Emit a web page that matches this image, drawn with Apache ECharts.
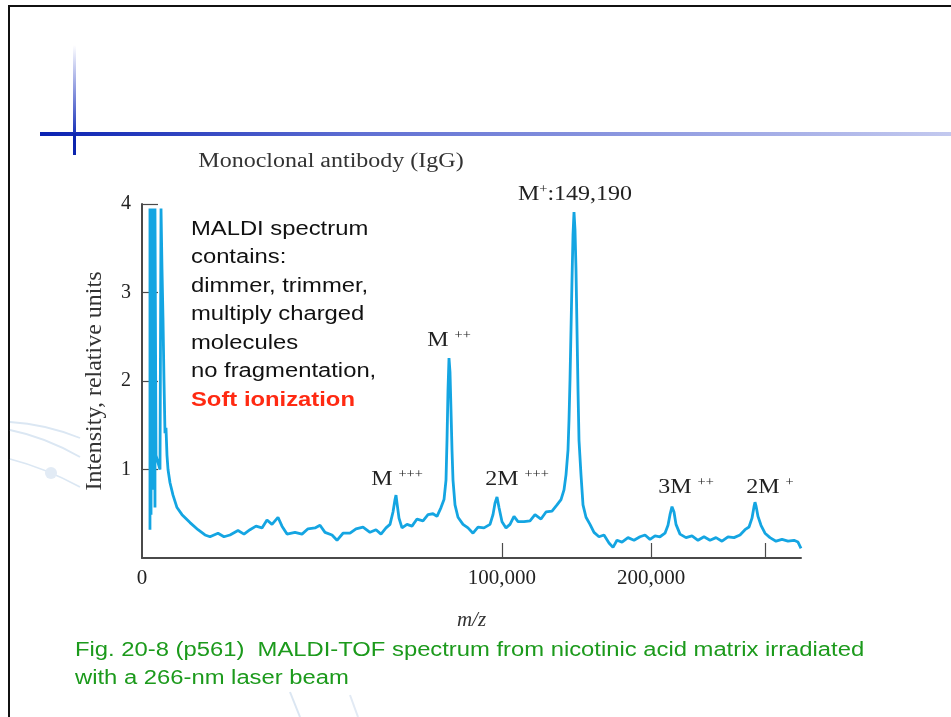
<!DOCTYPE html>
<html>
<head>
<meta charset="utf-8">
<script src="https://cdn.jsdelivr.net/npm/echarts@6/dist/echarts.min.js"></script>
<style>
html,body{margin:0;padding:0;background:#fff;}
#c{width:951px;height:717px;}
</style>
</head>
<body>
<div id="c"></div>
<script>
// ---- data ----
const mzValues = [49,49,63,63,77,77,93,93,111,111,130,130,151,250,279,309,340,373,408,444,482,522,605,742,945,1235,1778,2420,3063,3568,4457,5188,5976,7111,8028,9000,10028,11112,12057,13041,14272,15124,16224,18063,19754,21263,23094,24449,25842,27856,29342,31175,33384,35338,37688,40113,42252,44077,45940,47459,48614,49392,49783,50176,50966,52163,54188,56252,58355,60929,63117,65343,67152,68986,70377,71312,71782,72253,72726,73201,73677,74154,74634,75597,77053,79511,82007,84541,87115,90254,93449,95067,96153,97246,98345,100004,102239,104498,106782,109091,112601,116166,119179,122846,125944,129712,132895,135470,137416,138722,140034,140692,141352,142013,142676,143340,144007,144674,145343,146013,146685,147359,148711,150069,152118,154871,157649,161156,164702,168286,171182,174101,177785,182258,186786,191370,195232,199132,203072,207050,211066,213494,215121,216754,217572,218393,220038,223346,228356,233421,238541,243718,248949,254237,259579,264978,270432,275941,280575,284310,287127,289013,289958,290905,292803,295662,299496,304322,310165,316063,322018,328027,332064,335108];
const intensityValues = [0.32,3.95,0.49,3.95,1.00,3.95,0.77,3.95,1.22,3.95,0.57,3.95,1.16,1.00,3.95,3.26,2.71,2.01,1.41,1.47,1.16,1.00,0.85,0.71,0.57,0.49,0.40,0.32,0.26,0.24,0.28,0.24,0.26,0.31,0.27,0.32,0.36,0.34,0.43,0.38,0.46,0.36,0.27,0.29,0.27,0.33,0.34,0.37,0.29,0.26,0.20,0.28,0.28,0.33,0.35,0.29,0.32,0.27,0.34,0.38,0.52,0.66,0.71,0.62,0.45,0.34,0.38,0.36,0.44,0.42,0.49,0.50,0.47,0.57,0.66,0.88,1.33,1.90,2.26,2.10,1.67,1.22,0.88,0.60,0.46,0.38,0.34,0.28,0.35,0.34,0.38,0.49,0.62,0.69,0.57,0.41,0.34,0.38,0.47,0.41,0.41,0.42,0.49,0.44,0.52,0.53,0.60,0.66,0.77,0.94,1.22,1.56,2.01,2.58,3.14,3.65,3.91,3.71,3.26,2.58,1.90,1.33,0.94,0.60,0.46,0.38,0.29,0.24,0.26,0.17,0.12,0.20,0.18,0.23,0.20,0.24,0.26,0.21,0.25,0.24,0.28,0.37,0.49,0.58,0.60,0.52,0.38,0.27,0.23,0.25,0.20,0.24,0.20,0.23,0.19,0.24,0.23,0.26,0.32,0.35,0.45,0.58,0.63,0.59,0.47,0.37,0.28,0.23,0.19,0.21,0.19,0.20,0.18,0.11];

const xTickMz = [100000, 200000, 300000];
const xLabelMz = [0, 100000, 200000];
const xMaxMz = 335108;
const yTicks = [1, 2, 3, 4];

// peak annotations (text, peak m/z, peak intensity)
const peakNames = ['{n|M}{s|+}{n|:149,190}', '{n|M }{s|++}', '{n|M }{s|+++}', '{n|2M }{s|+++}', '{n|3M }{s|++}', '{n|2M }{s|+}'];
const peakMz = [144007, 72726, 49783, 97246, 217572, 289958];
const peakIntensity = [3.91, 2.26, 0.71, 0.69, 0.60, 0.63];

const titleText = 'Monoclonal antibody (IgG)';
const noteLines = ['MALDI spectrum', 'contains:', 'dimmer, trimmer,', 'multiply charged', 'molecules', 'no fragmentation,'];
const noteEmph = 'Soft ionization';
const captionLines = ['Fig. 20-8 (p561)  MALDI-TOF spectrum from nicotinic acid matrix irradiated', 'with a 266-nm laser beam'];

// ---- chart ----
const chart = echarts.init(document.getElementById('c'), null, {renderer: 'canvas'});
const serif = 'Liberation Serif';
const sans = 'Liberation Sans';
const lineColor = '#14a5e2';
const axisColor = '#4a4a4a';

const seriesData = mzValues.map((m, i) => [Math.sqrt(m), intensityValues[i]]);

chart.setOption({
  backgroundColor: '#ffffff',
  animation: false,
  grid: {left: 142, right: 150, top: 204, bottom: 159, containLabel: false},
  xAxis: {
    type: 'value',
    min: 0,
    max: Math.sqrt(xMaxMz),
    name: 'm/z',
    nameLocation: 'middle',
    nameGap: 52,
    nameTextStyle: {fontFamily: serif, fontStyle: 'italic', fontSize: 21, color: '#333'},
    axisLine: {show: true, lineStyle: {color: axisColor, width: 2}},
    axisTick: {show: true, inside: true, length: 15, lineStyle: {color: axisColor, width: 1.2}, customValues: xTickMz.map(Math.sqrt)},
    axisLabel: {
      show: true, margin: 10, fontFamily: serif, fontSize: 21, color: '#222',
      customValues: xLabelMz.map(Math.sqrt),
      formatter: v => Math.round(v * v).toLocaleString('en-US')
    },
    splitLine: {show: false}
  },
  yAxis: {
    type: 'value',
    min: 0, max: 4, interval: 1,
    name: 'Intensity, relative units',
    nameLocation: 'middle',
    nameGap: 35,
    nameTextStyle: {fontFamily: serif, fontSize: 24, color: '#333'},
    axisLine: {show: true, lineStyle: {color: axisColor, width: 2}},
    axisTick: {show: true, inside: true, length: 16, lineStyle: {color: axisColor, width: 1.2}, customValues: yTicks},
    axisLabel: {show: true, margin: 11, fontFamily: serif, fontSize: 20, color: '#222', customValues: yTicks},
    splitLine: {show: false}
  },
  series: [{
    type: 'line',
    data: seriesData,
    showSymbol: false,
    symbol: 'none',
    smooth: false,
    lineStyle: {color: lineColor, width: 2.8},
    z: 3
  }]
});

// ---- annotations / slide decoration ----
const SX = 1.19;
const graphics = [];
// slide frame
graphics.push({type: 'rect', shape: {x: 8, y: 5, width: 943, height: 2}, style: {fill: '#111'}, silent: true});
graphics.push({type: 'rect', shape: {x: 8, y: 5, width: 2, height: 712}, style: {fill: '#111'}, silent: true});
// blue cross decoration
graphics.push({type: 'rect', shape: {x: 40, y: 132, width: 911, height: 4},
  style: {fill: new echarts.graphic.LinearGradient(0, 0, 1, 0, [{offset: 0, color: '#0a22b2'}, {offset: 0.35, color: '#5f6fd3'}, {offset: 1, color: '#c3c9ef'}])}, silent: true});
graphics.push({type: 'rect', shape: {x: 73, y: 45, width: 3, height: 88},
  style: {fill: new echarts.graphic.LinearGradient(0, 0, 0, 1, [{offset: 0, color: 'rgba(40,60,200,0)'}, {offset: 1, color: '#1a33b8'}])}, silent: true});
graphics.push({type: 'rect', shape: {x: 73, y: 133, width: 3, height: 22}, style: {fill: '#0d25ae'}, silent: true});
// faint orbit decoration
const faint = {stroke: '#dbe7f3', lineWidth: 1.8, fill: null};
graphics.push({type: 'bezierCurve', shape: {x1: 10, y1: 422, x2: 80, y2: 438, cpx1: 45, cpy1: 424}, style: faint, silent: true});
graphics.push({type: 'bezierCurve', shape: {x1: 10, y1: 430, x2: 80, y2: 457, cpx1: 45, cpy1: 437}, style: faint, silent: true});
graphics.push({type: 'bezierCurve', shape: {x1: 10, y1: 459, x2: 80, y2: 487, cpx1: 45, cpy1: 468}, style: faint, silent: true});
graphics.push({type: 'circle', shape: {cx: 51, cy: 473, r: 6}, style: {fill: '#e2ebf5'}, silent: true});
graphics.push({type: 'line', shape: {x1: 290, y1: 692, x2: 300, y2: 717}, style: {stroke: '#dbe6f2', lineWidth: 2}, silent: true});
graphics.push({type: 'line', shape: {x1: 350, y1: 695, x2: 358, y2: 717}, style: {stroke: '#e2eaf4', lineWidth: 2}, silent: true});
// title
graphics.push({type: 'text', x: 331, y: 162, scaleX: 1.2, style: {text: titleText, x: 0, y: 0, align: 'center', verticalAlign: 'middle', font: '20px "' + serif + '"', fill: '#333'}, z: 10});
// note
noteLines.forEach((t, i) => {
  graphics.push({type: 'text', x: 191, y: 229 + i * 28.5, scaleX: SX, style: {text: t, x: 0, y: 0, align: 'left', verticalAlign: 'middle', font: '20px "' + sans + '"', fill: '#111'}, z: 10});
});
graphics.push({type: 'text', x: 191, y: 229 + 6 * 28.5, scaleX: SX, style: {text: noteEmph, x: 0, y: 0, align: 'left', verticalAlign: 'middle', font: 'bold 20px "' + sans + '"', fill: '#ff2a12'}, z: 10});
// caption
captionLines.forEach((t, i) => {
  graphics.push({type: 'text', x: 75, y: 650 + i * 28, scaleX: SX, style: {text: t, x: 0, y: 0, align: 'left', verticalAlign: 'middle', font: '20px "' + sans + '"', fill: '#1c9a1c'}, z: 10});
});
// peak labels positioned from the data through the chart's own scales
const labelOffsets = [[1, -17], [0, -17], [1, -15], [20, -17], [13, -17], [15, -14]];
peakNames.forEach((t, i) => {
  const p = chart.convertToPixel({gridIndex: 0}, [Math.sqrt(peakMz[i]), peakIntensity[i]]);
  graphics.push({type: 'text', x: p[0] + labelOffsets[i][0], y: p[1] + labelOffsets[i][1], scaleX: 1.2,
    style: {text: t, x: 0, y: 0, align: 'center', verticalAlign: 'middle',
      rich: {
        n: {fontFamily: serif, fontSize: 20, lineHeight: 22, fill: '#222', color: '#222'},
        s: {fontFamily: serif, fontSize: 12, lineHeight: 22, verticalAlign: 'top', padding: [0, 0, 8, 0], fill: '#222', color: '#222'}
      }}, z: 10});
});
chart.setOption({graphic: graphics});
</script>
</body>
</html>
